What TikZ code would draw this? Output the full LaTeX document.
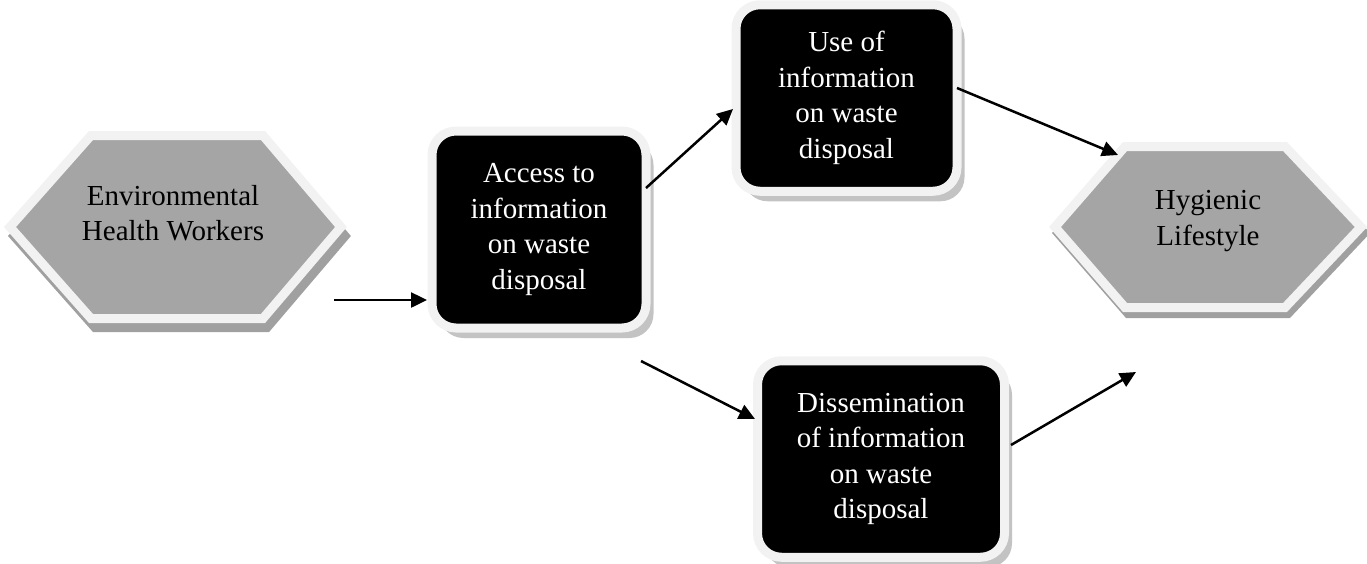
\documentclass[tikz,border=0pt]{standalone}
\usepackage{fontspec}
\setmainfont{Liberation Serif}
\usetikzlibrary{arrows.meta,shadows}
\definecolor{hexfill}{RGB}{165,165,165}
\definecolor{rim}{RGB}{242,242,242}
\definecolor{hexshadow}{RGB}{160,160,160}
\definecolor{boxshadow}{RGB}{195,195,195}
\begin{document}
\begin{tikzpicture}[x=1pt,y=-1pt,
  txt/.style={font=\fontsize{29pt}{35.5pt}\selectfont, align=center, inner sep=0pt},
  infobox/.style={txt, rectangle, rounded corners=24pt, fill=black, draw=rim,
    line width=9pt, outer sep=0pt, text=white,
    drop shadow={shadow xshift=7.5pt, shadow yshift=-10pt, fill=boxshadow, opacity=1}},
  link/.style={line width=2.5pt, -{Triangle[length=16pt,width=15pt]}},
  hexrim/.style={fill=hexfill, draw=rim, line width=9pt, line join=miter},
  hexshade/.style={fill=hexshadow, draw=hexshadow, line width=9pt, line join=miter}]
\useasboundingbox (0,0) rectangle (1367,563);

% hexagon: Environmental Health Workers
\draw[hexshade, shift={(4,9)}] (10,227) -- (91,135.5) -- (263,135.5) -- (341,227) -- (263,318.5) -- (91,318.5) -- cycle;
\draw[hexrim] (10,227) -- (91,135.5) -- (263,135.5) -- (341,227) -- (263,318.5) -- (91,318.5) -- cycle;
\node[txt] (env) at (173,213) {Environmental\\Health Workers};

% hexagon: Hygienic Lifestyle
\draw[hexshade, shift={(3,6)}] (1055,227) -- (1125,146.5) -- (1285,146.5) -- (1361,227) -- (1285,307.5) -- (1125,307.5) -- cycle;
\draw[hexrim] (1055,227) -- (1125,146.5) -- (1285,146.5) -- (1361,227) -- (1285,307.5) -- (1125,307.5) -- cycle;
\node[txt] (hyg) at (1208,221) {Hygienic\\Lifestyle};

% boxes
\node[infobox, minimum width=214pt, minimum height=197pt] (acc) at (539,229.5) {Access to\\information\\on waste\\disposal};
\node[infobox, minimum width=221pt, minimum height=186.5pt] (use) at (846.5,98) {Use of\\information\\on waste\\disposal};
\node[infobox, minimum width=247pt, minimum height=196.5pt] (diss) at (881,459) {Dissemination\\of information\\on waste\\disposal};

% connectors
\coordinate (s1) at (334,300);
\coordinate (t3) at (1118,155);
\coordinate (s4) at (641,361);
\coordinate (t5) at (1136,372);
\draw[link] (s1) -- ([xshift=-5pt,yshift=-70.5pt]acc.west);
\draw[link] ([yshift=41.5pt]acc.east) -- ([xshift=-3pt,yshift=-11pt]use.west);
\draw[link] ([yshift=10pt]use.east) -- (t3);
\draw[link] (s4) -- ([xshift=-2.5pt,yshift=40pt]diss.west);
\draw[link] ([xshift=6.5pt,yshift=14pt]diss.east) -- (t5);
\end{tikzpicture}
\end{document}
